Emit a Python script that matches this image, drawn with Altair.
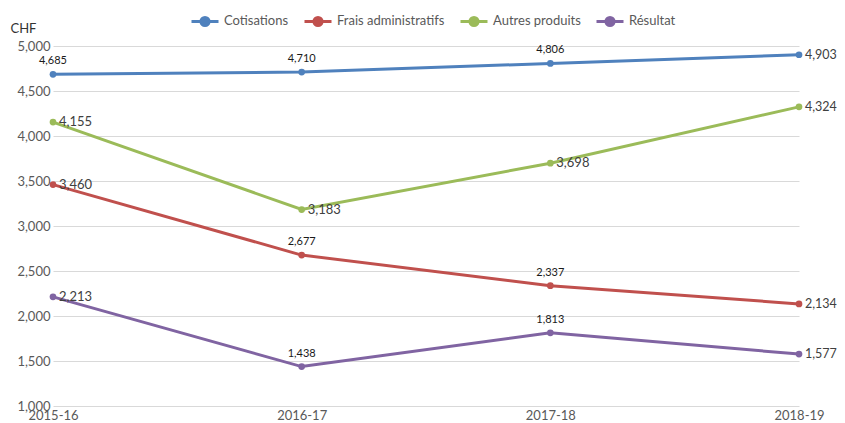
import altair as alt
import pandas as pd

years = ["2015-16", "2016-17", "2017-18", "2018-19"]
series = ["Cotisations", "Frais administratifs", "Autres produits", "Résultat"]
cotisations = [4685, 4710, 4806, 4903]
frais = [3460, 2677, 2337, 2134]
autres = [4155, 3183, 3698, 4324]
resultat = [2213, 1438, 1813, 1577]
colors = ["#4F81BD", "#C0504D", "#9BBB59", "#8064A2"]
# which value labels sit above their point (others sit to the right)
labels_above = {
    "Cotisations": ["2015-16", "2016-17", "2017-18"],
    "Frais administratifs": ["2016-17", "2017-18"],
    "Autres produits": [],
    "Résultat": ["2016-17", "2017-18"],
}

rows = []
for name, vals in zip(series, [cotisations, frais, autres, resultat]):
    for yr, v in zip(years, vals):
        rows.append({"year": yr, "series": name, "value": v,
                     "pos": "above" if yr in labels_above[name] else "right"})
df = pd.DataFrame(rows)

legend_path = "M-1,0L1,0M0.3,0A0.3,0.3,0,1,1,-0.3,0A0.3,0.3,0,1,1,0.3,0Z"

x = alt.X("year:N", sort=years,
          scale=alt.Scale(type="point", padding=0),
          axis=alt.Axis(title=None, labelAngle=0, ticks=False, domain=False,
                        grid=False, labelColor="#595959", labelFontSize=13,
                        labelPadding=3))
y = alt.Y("value:Q",
          scale=alt.Scale(domain=[1000, 5000], nice=False, zero=False),
          axis=alt.Axis(title="CHF", titleAngle=0, titleX=-43, titleY=-14,
                        titleAlign="left", titleBaseline="alphabetic",
                        titleFontSize=13, titleFontWeight="normal",
                        titleColor="#333333",
                        values=list(range(1000, 5001, 500)), format=",d",
                        ticks=False, domain=False, grid=True,
                        gridColor="#d9d9d9", gridWidth=1,
                        labelColor="#595959", labelFontSize=13, labelPadding=3))
color = alt.Color("series:N", sort=series,
                  scale=alt.Scale(domain=series, range=colors),
                  legend=alt.Legend(title=None, orient="none", direction="horizontal",
                                    legendX=137, legendY=-40,
                                    symbolType=legend_path, symbolSize=729,
                                    symbolStrokeWidth=3, labelOffset=4,
                                    columnPadding=9, labelFontSize=13,
                                    labelColor="#595959"))

base = alt.Chart(df)
lines = base.mark_line(strokeWidth=3).encode(x=x, y=y, color=color)
points = base.mark_point(filled=True, size=45, opacity=1).encode(x=x, y=y, color=color)
above = base.transform_filter(alt.datum.pos == "above").mark_text(
    fontSize=11, color="#1a1a1a", baseline="alphabetic", dy=-10
).encode(x=x, y=y, text=alt.Text("value:Q", format=",d"))
right = base.transform_filter(alt.datum.pos == "right").mark_text(
    color="#404040", align="left", baseline="middle", dx=6
).encode(x=x, y=y, text=alt.Text("value:Q", format=",d"),
         size=alt.condition(alt.datum.year == years[-1], alt.value(12.5), alt.value(13)))

chart = alt.layer(lines, points, above, right).properties(
    width=746, height=360,
    autosize=alt.AutoSizeParams(type="none"),
    padding={"left": 45, "top": 38, "right": 38, "bottom": 16},
).configure(font="Lato").configure_view(stroke=None)

chart.save("out.html", embed_options={"renderer": "svg", "actions": False})
